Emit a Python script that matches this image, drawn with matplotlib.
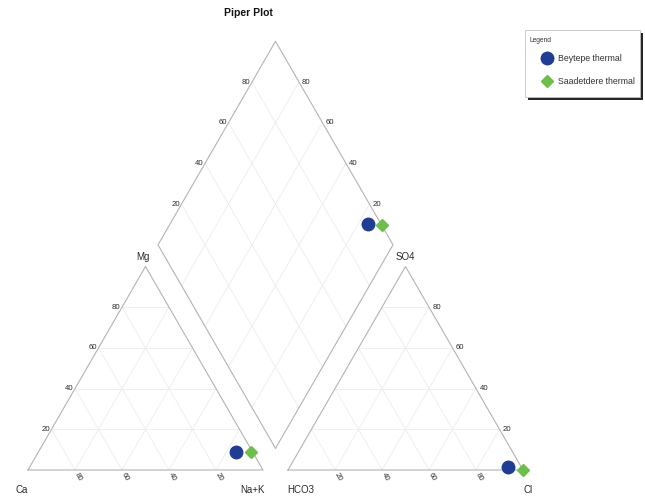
import numpy as np
import matplotlib
matplotlib.use("Agg")
import matplotlib.pyplot as plt
from matplotlib.patches import Rectangle

plt.rcParams['font.family'] = ['Liberation Sans', 'DejaVu Sans']

# ---- sample chemistry (percent of meq/L) ----
samples = ["Beytepe thermal", "Saadetdere thermal"]
ca = [7.0, 0.5]
mg = [8.7, 9.0]
na_k = [84.3, 90.5]
hco3 = [5.7, 0.0]
so4 = [1.3, 0.0]
cl = [93.0, 100.0]
markers = ["o", "D"]
marker_sizes = [9.0, 6.5]
colors = ["#213c94", "#6cbf48"]
tick_values = [20, 40, 60, 80]

# ---- layout of the three Piper fields (triangle side = 1) ----
W_PX, H_PX = 645, 498
H = np.sqrt(3) / 2
GAP = 25 / 235
OFF = 1 + GAP
B = np.array([1 + GAP / 2, GAP * H])          # bottom vertex of the diamond
UL = np.array([-0.5, H])
UR = np.array([0.5, H])

OUTLINE = "#b3b3b3"
GRID = "#ececec"
TXT = "#2a2a2a"


def cation_xy(c, m, n):
    t = c + m + n
    return n / t + m / t / 2, m / t * H


def anion_xy(h, s, c):
    t = h + s + c
    return OFF + c / t + s / t / 2, s / t * H


def diamond_xy(cp, ap):
    dx = ap[0] - cp[0]
    dy = ap[1] - cp[1]
    t = dx + dy / (2 * H)
    return cp[0] + t * 0.5, cp[1] + t * H


def fig_frac(px, py):
    return px / W_PX, 1 - py / H_PX


fig = plt.figure(figsize=(6.45, 4.98), dpi=100)
ax = fig.add_axes([0, 0, 1, 1])
ax.set_xlim(-28 / 235, (W_PX - 28) / 235)
ax.set_ylim((470 - H_PX) / 235, 470 / 235)
ax.axis("off")


def seg(p, q, color, lw, z=1):
    ax.plot([p[0], q[0]], [p[1], q[1]], color=color, lw=lw, zorder=z,
            solid_capstyle="butt")


# triangles
for x0 in (0.0, OFF):
    o = np.array([x0, 0.0])
    for v in tick_values:
        f = v / 100
        seg(o + [f / 2, f * H], o + [1 - f / 2, f * H], GRID, 0.6)
        seg(o + [f, 0], o + [f + (1 - f) / 2, (1 - f) * H], GRID, 0.6)
        seg(o + [1 - f, 0], o + [(1 - f) / 2, (1 - f) * H], GRID, 0.6)
    tri = np.array([o, o + [1, 0], o + [0.5, H], o])
    ax.plot(tri[:, 0], tri[:, 1], color=OUTLINE, lw=0.8, zorder=2)

# diamond
for v in tick_values:
    f = v / 100
    seg(B + f * UR, B + f * UR + UL, GRID, 0.6)
    seg(B + f * UL, B + f * UL + UR, GRID, 0.6)
dia = np.array([B, B + UR, B + UR + UL, B + UL, B])
ax.plot(dia[:, 0], dia[:, 1], color=OUTLINE, lw=0.8, zorder=2)


def label(txt, xy, dx, dy, ha="center", va="center", size=5.6, rot=0,
          weight="normal"):
    ax.annotate(txt, xy=xy, xytext=(dx, dy), textcoords="offset points",
                ha=ha, va=va, fontsize=size, color=TXT, rotation=rot,
                fontweight=weight, rotation_mode="anchor")


for v in tick_values:
    f = v / 100
    # Mg axis (left triangle, left edge)
    label(str(v), (f / 2, f * H), -1.2, 0, ha="right")
    # Ca axis (left triangle, base)
    label(str(100 - v), (f, 0), 2.2, -5, rot=-60)
    # Cl axis (right triangle, base)
    label(str(v), (OFF + f, 0), 2.2, -5, rot=-60)
    # SO4 axis (right triangle, right edge)
    label(str(v), (OFF + 1 - f / 2, f * H), 2.5, 0, ha="left")
    # diamond upper edges
    p = B + UL + f * UR
    label(str(v), p, -1.2, 0, ha="right")
    p = B + UR + f * UL
    label(str(v), p, 2.0, 0, ha="left")

# corner names
label("Mg", (0.5, H), -2, 6.5, size=7)
label("SO4", (OFF + 0.5, H), 0, 6.5, size=7)
label("Ca", (0, 0), -4.5, -14.5, size=7)
label("Na+K", (1, 0), -7.5, -14.5, size=7)
label("HCO3", (OFF, 0), 9.5, -14.5, size=7)
label("Cl", (OFF + 1, 0), 3.5, -14.5, size=7)

ax.text((248 - 28) / 235, (470 - 13) / 235, "Piper Plot",
        ha="center", va="center", fontsize=7.5, fontweight="bold", color="#111")

# samples
handles = []
for i, name in enumerate(samples):
    cp = cation_xy(ca[i], mg[i], na_k[i])
    ap = anion_xy(hco3[i], so4[i], cl[i])
    dp = diamond_xy(cp, ap)
    xs = [cp[0], ap[0], dp[0]]
    ys = [cp[1], ap[1], dp[1]]
    ln, = ax.plot(xs, ys, linestyle="none", marker=markers[i],
                  markersize=marker_sizes[i], color=colors[i],
                  markeredgecolor=colors[i], zorder=5, label=name)
    handles.append(ln)

# legend panel with drop shadow
x0, y0 = fig_frac(528, 100)
x1, y1 = fig_frac(643, 33)
fig.patches.append(Rectangle((x0, y0), x1 - x0, y1 - y0, transform=fig.transFigure,
                             facecolor="#262626", edgecolor="none", zorder=3))
x0, y0 = fig_frac(525, 97)
x1, y1 = fig_frac(640, 30)
fig.patches.append(Rectangle((x0, y0), x1 - x0, y1 - y0, transform=fig.transFigure,
                             facecolor="white", edgecolor="#c4c4c4", lw=0.6,
                             zorder=4))
tx, ty = fig_frac(530, 41)
fig.text(tx, ty, "Legend", fontsize=4.8, color="#333333", ha="left",
         va="center", zorder=6)

leg = fig.legend(handles=handles, labels=samples, loc="upper left",
                 bbox_to_anchor=fig_frac(540.3, 54.0), fontsize=6.3,
                 frameon=False, borderpad=0, labelspacing=1.65,
                 handletextpad=0.45, handlelength=1.55, borderaxespad=0)
leg.set_zorder(7)
for t in leg.get_texts():
    t.set_color("#333333")

fig.savefig("out.png", dpi=100)
